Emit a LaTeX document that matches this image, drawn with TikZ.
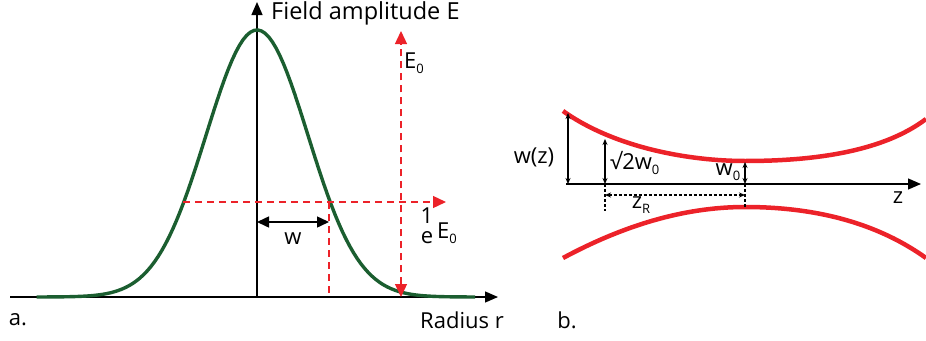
\documentclass[tikz,border=0pt]{standalone}
\usepackage{fontspec}
\setmainfont{Open Sans}
\usetikzlibrary{arrows.meta}
\definecolor{gauss}{HTML}{1B5E30}
\definecolor{beamred}{HTML}{EC2229}
\newcommand{\subz}[1]{\raisebox{-0.4ex}{\fontsize{13}{13}\selectfont #1}}
\begin{document}
\begin{tikzpicture}[x=1pt,y=-1pt,
  lbl/.style={inner sep=0pt, font=\fontsize{22}{26}\selectfont},
  axis/.style={line width=1.3pt, -{Triangle[length=13pt,width=11pt]}},
  reddash/.style={beamred, line width=1.3pt, dash pattern=on 7pt off 5pt},
  wtip/.style={{Triangle[length=12pt,width=11pt]}-{Triangle[length=12pt,width=11pt]}, line width=1.5pt},
  smallarr/.style={{Stealth[length=6pt,width=5pt]}-{Stealth[length=6pt,width=5pt]}, line width=1.1pt},
  dotline/.style={line width=1.1pt, dash pattern=on 3pt off 2pt},
  beam/.style={beamred, line width=4.5pt}]
\useasboundingbox (0,0) rectangle (926,340);
% ---------- panel a ----------
\coordinate (xs) at (10,297);
\coordinate (xe) at (498,297);
\coordinate (o) at (257,297);
\coordinate (yt) at (257,2);
\draw[axis] (xs) -- (xe);
\draw[axis] (o) -- (yt);
\draw[gauss, line width=3.4pt] plot[domain=-3.06:3.03, samples=120] ({257+72*\x},{297-267*exp(-\x*\x)});
% red dashed guides
\coordinate (hs) at (183,202);
\coordinate (he) at (446,202);
\coordinate (vb) at (401,297);
\coordinate (vt) at (401,31);
\coordinate (wb) at (329,297);
\coordinate (wt) at (329,202);
\draw[reddash, -{Triangle[length=13pt,width=12pt]}] (hs) -- (he);
\draw[reddash, {Triangle[length=13pt,width=12pt]}-{Triangle[length=13pt,width=12pt]}] (vb) -- (vt);
\draw[reddash] (wt) -- (wb);
% w arrow
\coordinate (wl) at (257,222);
\coordinate (wr) at (329,222);
\draw[wtip] (wl) -- (wr);
\node[lbl] (wlab) at (293,239) {w};
\node[lbl, anchor=west, font=\fontsize{23.5}{26}\selectfont] (fa) at (271,13) {Field amplitude E};
\node[lbl, anchor=west] (e0) at (404,63) {E\subz{0}};
\node[lbl] (one) at (427,216) {1};
\node[lbl] (ee) at (427,238) {e};
\node[lbl, anchor=west] (e0b) at (437,233) {E\subz{0}};
\node[lbl] (rr) at (462,320) {Radius r};
\node[lbl] (la) at (18,320) {a.};
% ---------- panel b ----------
\node[lbl] (lb) at (567,320) {b.};
\coordinate (zs) at (566,184);
\coordinate (ze) at (921,184);
\draw[axis] (zs) -- (ze);
\draw[beam] (563,111) .. controls (615,148) and (690,161) .. (745,161)
                      .. controls (820,161) and (885,150) .. (926,119);
\draw[beam] (563,258) .. controls (630,222) and (690,207) .. (745,207)
                      .. controls (820,207) and (880,225) .. (926,258);
\coordinate (a1b) at (568,184);
\coordinate (a1t) at (568,113);
\coordinate (a2b) at (605,184);
\coordinate (a2t) at (605,139);
\coordinate (a3b) at (745,184);
\coordinate (a3t) at (745,162);
\coordinate (d1) at (605,211);
\coordinate (d2) at (745,208);
\coordinate (r1) at (605,195);
\coordinate (r2) at (745,195);
\draw[smallarr] (a1b) -- (a1t);
\draw[smallarr] (a2b) -- (a2t);
\draw[smallarr] (a3b) -- (a3t);
\draw[dotline] (a2b) -- (d1);
\draw[dotline] (a3b) -- (d2);
\draw[dotline, {Stealth[length=6pt,width=5pt]}-{Stealth[length=6pt,width=5pt]}] (r1) -- (r2);
\node[lbl] (wz) at (534,157) {w(z)};
\node[lbl, anchor=west] (s2) at (610,163) {√2w\subz{0}};
\node[lbl] (w0) at (728,172) {w\subz{0}};
\node[lbl] (zr) at (641,205) {z\subz{R}};
\node[lbl] (zz) at (898,198) {z};
\end{tikzpicture}
\end{document}
